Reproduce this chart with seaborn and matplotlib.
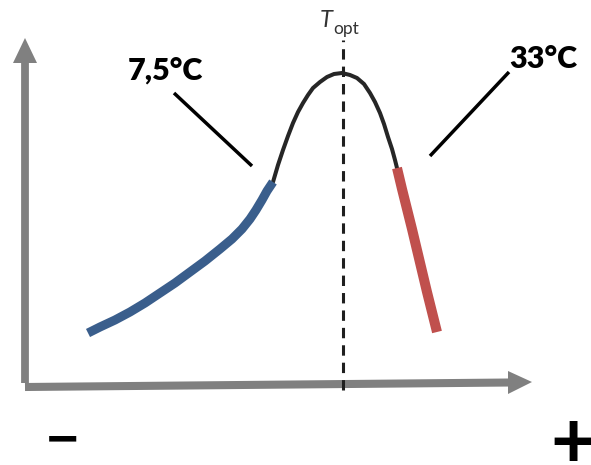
import matplotlib
matplotlib.use("Agg")
import matplotlib.pyplot as plt
from matplotlib.patches import Polygon
import pandas as pd
import seaborn as sns

sns.set_theme(style="white")
plt.rcParams['font.family'] = ['Lato', 'DejaVu Sans']

# Thermal performance curve (temperature position vs. rate), origin at the axes corner
cold_x = [63, 75, 90, 105, 120, 135, 150, 165, 180, 195, 207, 217, 225, 231, 237, 242, 248]
cold_y = [54, 60, 67, 75, 84, 94, 104, 115, 126, 138, 148, 158, 168, 177, 187, 196, 205]

mid_x = [248, 253, 258, 263, 268, 273, 278, 283, 288, 295, 302, 309, 317,
         325, 332, 339, 345, 350, 355, 359, 363, 367, 370, 372]
mid_y = [205, 222, 237, 251, 264, 275, 284, 292, 299, 305, 310, 313, 314,
         312, 309, 303, 294, 285, 274, 263, 250, 238, 227, 219]

hot_x = [372, 377, 382, 387, 392, 397, 402, 407, 412]
hot_y = [219, 198, 178, 158, 137, 116, 95, 75, 55]

t_opt = 318
low_label = "7,5°C"
high_label = "33°C"

axis_grey = "#808080"

fig = plt.figure(figsize=(5.91, 4.65), dpi=100)
ax = fig.add_axes([0, 0, 1, 1])
ax.set_xlim(-25, 566)
ax.set_ylim(-78, 387)
ax.axis("off")

# Hand-drawn style axes with arrowheads
ax.plot([0, 0], [4, 326], color=axis_grey, lw=5.6, solid_capstyle="butt")
ax.add_patch(Polygon([[-12, 324], [12, 324], [0, 349]], closed=True,
                     color=axis_grey, lw=0))
ax.plot([0, 485], [0, 4.5], color=axis_grey, lw=5.8, solid_capstyle="butt")
ax.add_patch(Polygon([[483, -7], [483, 16], [507, 5]], closed=True,
                     color=axis_grey, lw=0))

# Optimum temperature marker
ax.plot([t_opt, t_opt], [-3, 347], color="#1f1f1f", lw=2.2,
        linestyle=(0, (3.4, 2.3)), zorder=2)
ax.text(295, 360, "T", fontsize=17, style="italic", color="#333333",
        ha="left", va="baseline")
ax.text(308, 353, "opt", fontsize=12.5, color="#333333",
        ha="left", va="baseline")

# Curve segments
cold = pd.DataFrame({"x": cold_x, "y": cold_y})
mid = pd.DataFrame({"x": mid_x, "y": mid_y})
hot = pd.DataFrame({"x": hot_x, "y": hot_y})

sns.lineplot(data=mid, x="x", y="y", sort=False, estimator=None, ax=ax,
             color="#262626", lw=2.9, solid_joinstyle="round", zorder=3)
sns.lineplot(data=cold, x="x", y="y", sort=False, estimator=None, ax=ax,
             color="#3a5e8c", lw=6.5, solid_capstyle="butt",
             solid_joinstyle="round", zorder=4)
sns.lineplot(data=hot, x="x", y="y", sort=False, estimator=None, ax=ax,
             color="#c0504d", lw=7.2, solid_capstyle="butt",
             solid_joinstyle="round", zorder=4)

# Threshold labels with leader lines
ax.plot([149, 227], [294, 221], color="black", lw=2.5, solid_capstyle="butt")
ax.plot([484, 405], [315, 231], color="black", lw=2.5, solid_capstyle="butt")
ax.text(103, 307, low_label, fontsize=22, fontweight="heavy", color="black",
        ha="left", va="baseline")
ax.text(484, 319, high_label, fontsize=22, fontweight="heavy", color="black",
        ha="left", va="baseline")

# Temperature direction signs
ax.text(38, -53, "−", fontsize=44, fontweight="bold", color="black",
        ha="center", va="center")
ax.text(548, -59, "+", fontsize=56, fontweight="bold", color="black",
        ha="center", va="center")

fig.savefig("out.png", dpi=100)
